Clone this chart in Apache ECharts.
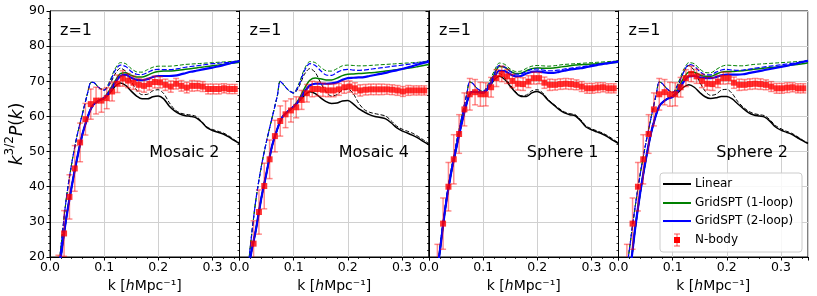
<!DOCTYPE html>
<html><head><meta charset="utf-8">
<script src="https://cdn.jsdelivr.net/npm/echarts@6/dist/echarts.min.js"></script>
<style>html,body{margin:0;padding:0;background:#fff}#c{width:817px;height:296px}</style>
</head><body><div id="c"></div>
<script>
// ---------- data ----------
const panelNames = ['Mosaic 2', 'Mosaic 4', 'Sphere 1', 'Sphere 2'];
const redshiftLabel = 'z=1';
const xTickLabels = ['0.0', '0.1', '0.2', '0.3'];
const yTickLabels = ['20', '30', '40', '50', '60', '70', '80', '90'];
const legendNames = ['Linear', 'GridSPT (1-loop)', 'GridSPT (2-loop)', 'N-body'];

const kLine = [0.016, 0.02, 0.03, 0.04, 0.05, 0.06, 0.07, 0.075, 0.08, 0.09, 0.10, 0.11, 0.12, 0.13, 0.14, 0.15, 0.16, 0.17, 0.18, 0.19, 0.20, 0.21, 0.22, 0.23, 0.24, 0.25, 0.26, 0.27, 0.28, 0.29, 0.30, 0.31, 0.32, 0.33, 0.34, 0.35];

// Mosaic 2
const m2Linear     = [15, 20, 31, 40, 48, 55, 60, 62, 63.3, 64.4, 65.1, 66.5, 68.5, 69.5, 68.8, 67.2, 65.8, 65.0, 65.0, 65.6, 65.8, 65.0, 63.0, 61.6, 60.7, 60.2, 60.0, 59.6, 58.4, 56.8, 56.0, 55.5, 55.0, 54.2, 53.2, 52.3];
const m2LinearDash = [17, 22.5, 36.5, 46.5, 54.5, 60.8, 67, 69.6, 69.7, 68.2, 67.5, 69, 72, 73.7, 72.8, 70, 67.5, 66.2, 66.3, 67.3, 67.6, 66.5, 64.0, 62.0, 61.0, 60.6, 60.4, 60.0, 58.6, 57.0, 56.3, 55.8, 55.3, 54.5, 53.4, 52.5];
const m2Loop1      = [15, 20, 31, 40, 48, 55, 60, 62, 63.3, 64.5, 65.4, 67.5, 70, 72.2, 72.4, 71.7, 71.2, 71.2, 71.7, 72.4, 72.8, 72.9, 72.9, 73.0, 73.2, 73.4, 73.6, 73.8, 74.0, 74.2, 74.4, 74.6, 74.8, 75.0, 75.2, 75.4];
const m2Loop1Dash  = [17, 22.5, 36.5, 46.5, 54.5, 60.8, 67, 69.6, 69.7, 68.2, 67.6, 70, 73.5, 75.3, 75, 73.6, 72.7, 72.6, 73.3, 74.0, 74.3, 74.3, 74.3, 74.4, 74.6, 74.8, 74.9, 75.0, 75.1, 75.2, 75.3, 75.4, 75.5, 75.6, 75.7, 75.8];
const m2Loop2      = [15, 20, 31, 40, 48, 55, 60, 62, 63.3, 64.5, 65.3, 67, 69.5, 71.5, 71.8, 71, 70.4, 70.3, 70.6, 71.2, 71.5, 71.5, 71.5, 71.6, 71.9, 72.3, 72.7, 73.0, 73.3, 73.6, 73.9, 74.2, 74.6, 75.0, 75.4, 75.7];
const m2Loop2Dash  = [17, 22.5, 36.5, 46.5, 54.5, 60.8, 67, 69.6, 69.7, 68.2, 67.5, 69.5, 73, 74.6, 74.2, 72.8, 72, 71.9, 72.5, 73.2, 73.4, 73.3, 73.3, 73.4, 73.7, 74.0, 74.2, 74.4, 74.6, 74.8, 75.0, 75.1, 75.3, 75.4, 75.6, 75.8];

// Mosaic 4
const m4Linear     = [14, 19.8, 27.5, 36.5, 44, 51.5, 56.5, 58.5, 60, 61.5, 62.7, 64.3, 66, 67, 66.5, 65.3, 64.2, 63.7, 63.8, 64.4, 64.5, 63.6, 62.2, 61.3, 60.5, 60.0, 59.7, 59.3, 58.2, 56.8, 55.9, 55.3, 54.6, 53.8, 52.8, 51.9];
const m4LinearDash = [17, 23, 36, 45.5, 53, 59.5, 66, 70, 69.3, 67.5, 66.6, 68.5, 72, 73.6, 72.5, 69.5, 67, 65.8, 66.2, 67.5, 67.8, 66.5, 63.8, 62, 61.2, 60.8, 60.5, 60.1, 58.8, 57.3, 56.4, 55.8, 55.2, 54.3, 53.3, 52.3];
const m4Loop1      = [14, 19.8, 27.5, 36.5, 44, 51.5, 56.5, 58.5, 60, 61.5, 62.9, 65, 68, 70.3, 70.9, 70.7, 70.4, 70.4, 70.9, 71.6, 72.0, 72.1, 72.2, 72.3, 72.4, 72.5, 72.7, 72.9, 73.1, 73.3, 73.5, 73.7, 73.9, 74.2, 74.5, 74.8];
const m4Loop1Dash  = [17, 23, 36, 45.5, 53, 59.5, 66, 70, 69.3, 67.5, 66.8, 69.5, 73.5, 75.6, 75.3, 74, 73, 72.9, 73.6, 74.4, 74.6, 74.5, 74.4, 74.4, 74.5, 74.6, 74.7, 74.8, 74.9, 75.0, 75.1, 75.2, 75.3, 75.4, 75.6, 75.8];
const m4Loop2      = [14, 19.8, 27.5, 36.5, 44, 51.5, 56.5, 58.5, 60, 61.5, 62.8, 64.5, 67, 68.8, 69.3, 69.3, 69.3, 69.4, 69.7, 70.4, 70.9, 71.0, 71.1, 71.2, 71.5, 71.8, 72.1, 72.4, 72.8, 73.1, 73.5, 73.9, 74.3, 74.8, 75.2, 75.6];
const m4Loop2Dash  = [17, 23, 36, 45.5, 53, 59.5, 66, 70, 69.3, 67.5, 66.7, 69, 73, 75, 74.5, 73, 71.8, 71.7, 72.5, 73.2, 73.4, 73.2, 73.1, 73.2, 73.4, 73.6, 73.8, 74.0, 74.2, 74.4, 74.6, 74.8, 75.0, 75.3, 75.5, 75.8];

// Sphere 1
const s1Linear     = [17, 21.5, 33.7, 43.2, 50.7, 57.8, 64, 66.3, 67, 66.9, 66.7, 68, 70.3, 71.4, 70.5, 68.6, 66.8, 65.7, 65.7, 66.7, 67.1, 66.3, 64.6, 63.3, 62.0, 61.0, 60.5, 60.2, 58.8, 57.0, 56.2, 55.6, 55.0, 54.2, 53.2, 52.3];
const s1LinearDash = [17.5, 22.5, 34.5, 44, 52, 59.5, 66.5, 69.8, 69.5, 67.8, 67.0, 68.7, 71, 72.2, 71, 69, 67, 65.9, 66.1, 67.3, 67.6, 66.7, 64.8, 63.5, 62.3, 61.3, 60.8, 60.5, 59.1, 57.3, 56.5, 55.9, 55.3, 54.5, 53.5, 52.5];
const s1Loop1      = [17, 21.5, 33.7, 43.2, 50.7, 57.8, 64, 66.3, 67, 66.9, 66.9, 68.5, 71.8, 74.2, 74, 72.9, 72.2, 72.3, 73, 73.6, 73.8, 73.7, 73.7, 73.8, 74.0, 74.2, 74.4, 74.6, 74.7, 74.8, 74.9, 75.0, 75.1, 75.2, 75.3, 75.4];
const s1Loop1Dash  = [17.5, 22.5, 34.5, 44, 52, 59.5, 66.5, 69.8, 69.5, 67.8, 67.2, 69.5, 72.8, 75.2, 74.8, 73.5, 72.8, 72.9, 73.7, 74.3, 74.5, 74.4, 74.3, 74.4, 74.6, 74.8, 74.9, 75.0, 75.1, 75.2, 75.3, 75.4, 75.5, 75.6, 75.7, 75.8];
const s1Loop2      = [17, 21.5, 33.7, 43.2, 50.7, 57.8, 64, 66.3, 67, 66.9, 66.8, 68.2, 71, 73, 72.9, 72, 71.4, 71.5, 72.2, 72.7, 72.8, 72.6, 72.4, 72.4, 72.7, 73.0, 73.3, 73.5, 73.7, 74.0, 74.3, 74.6, 74.9, 75.1, 75.4, 75.6];
const s1Loop2Dash  = [17.5, 22.5, 34.5, 44, 52, 59.5, 66.5, 69.8, 69.5, 67.8, 67.1, 69, 72, 74.5, 74, 72.8, 72, 72.1, 72.8, 73.4, 73.5, 73.2, 73.0, 73.0, 73.2, 73.5, 73.7, 73.9, 74.1, 74.3, 74.6, 74.8, 75.0, 75.2, 75.5, 75.7];

// Sphere 2
const s2Linear     = [10, 14, 27.2, 38.2, 47.3, 55.2, 60.8, 62.8, 63.8, 65, 65.6, 66.8, 68.3, 69, 68.3, 66.8, 65.6, 65.1, 65.3, 65.7, 65.7, 65.0, 63.6, 62.3, 61.1, 60.4, 60.1, 59.8, 58.6, 57.0, 56.1, 55.5, 54.9, 54.0, 53.1, 52.3];
const s2LinearDash = [17.5, 22, 33.5, 43.5, 52, 59.5, 66.5, 69.8, 69.5, 67.8, 66.8, 68.8, 72.5, 74.5, 73, 69.8, 67.2, 66, 66.3, 67.5, 67.7, 66.5, 64.3, 62.7, 61.5, 60.8, 60.5, 60.2, 59.0, 57.4, 56.5, 55.8, 55.2, 54.3, 53.3, 52.5];
const s2Loop1      = [10, 14, 27.2, 38.2, 47.3, 55.2, 60.8, 62.8, 63.8, 65, 65.7, 68, 70.8, 72.6, 72.6, 71.8, 71.4, 71.4, 72, 72.6, 72.8, 72.8, 72.9, 73.0, 73.2, 73.4, 73.6, 73.8, 73.9, 74.0, 74.2, 74.4, 74.6, 74.8, 75.0, 75.3];
const s2Loop1Dash  = [17.5, 22, 33.5, 43.5, 52, 59.5, 66.5, 69.8, 69.5, 67.8, 66.9, 69.5, 73.2, 75.3, 75, 73.5, 72.5, 72.4, 73.3, 74.2, 74.6, 74.5, 74.4, 74.4, 74.6, 74.8, 74.9, 75.0, 75.1, 75.2, 75.3, 75.4, 75.5, 75.6, 75.7, 75.8];
const s2Loop2      = [10, 14, 27.2, 38.2, 47.3, 55.2, 60.8, 62.8, 63.8, 65, 65.6, 67.3, 69.8, 71.4, 71.5, 71.1, 70.9, 70.9, 71.2, 71.7, 71.9, 71.9, 71.9, 72.0, 72.3, 72.6, 72.9, 73.2, 73.5, 73.8, 74.1, 74.4, 74.7, 75.1, 75.5, 75.8];
const s2Loop2Dash  = [17.5, 22, 33.5, 43.5, 52, 59.5, 66.5, 69.8, 69.5, 67.8, 66.8, 69, 72.5, 74.8, 74.3, 72.8, 71.8, 71.8, 72.6, 73.2, 73.4, 73.2, 73.1, 73.2, 73.4, 73.7, 73.9, 74.1, 74.3, 74.5, 74.7, 74.9, 75.1, 75.3, 75.5, 75.8];

// N-body
const kNbody = [0.0155, 0.0260, 0.0359, 0.0457, 0.0556, 0.0654, 0.0753, 0.0851, 0.0950, 0.1048, 0.1147, 0.1245, 0.1344, 0.1442, 0.1541, 0.1639, 0.1738, 0.1836, 0.1935, 0.2033, 0.2132, 0.2230, 0.2329, 0.2427, 0.2526, 0.2624, 0.2723, 0.2821, 0.2920, 0.3018, 0.3117, 0.3215, 0.3314, 0.3412];
const m2Nbody = [16.5, 26.7, 37.1, 45.2, 52.6, 59.2, 63.5, 64.5, 64.5, 65.2, 67.1, 69.3, 70.8, 70.2, 69.6, 69.0, 68.7, 69.2, 69.8, 69.7, 69.0, 68.5, 69.3, 68.7, 68.2, 68.7, 68.7, 68.5, 67.8, 67.8, 67.8, 68.0, 67.8, 67.8];
const m4Nbody = [14, 23.8, 32.8, 40.2, 47.8, 54.4, 58.7, 60.6, 61.7, 62.6, 64.7, 66.6, 67.8, 67.8, 67.6, 67.4, 67.4, 67.7, 68.3, 68.5, 68.0, 67.4, 67.6, 67.7, 67.7, 67.7, 67.7, 67.6, 67.4, 67.1, 67.4, 67.4, 67.4, 67.4];
const sphereNbody = [19.6, 29.5, 40.0, 47.8, 55.0, 62.0, 66.3, 66.9, 66.3, 66.3, 68.3, 70.9, 72.1, 71.4, 70.1, 69.3, 69.2, 69.9, 70.9, 70.9, 69.6, 69.0, 69.0, 69.2, 69.3, 69.2, 69.0, 68.5, 68.0, 68.0, 68.2, 68.3, 68.0, 68.0];
const mosaicErr = [4.0, 6.5, 6.3, 6.5, 5.5, 4.5, 4.3, 3.8, 3.3, 3.0, 2.7, 2.5, 2.2, 2.0, 1.9, 1.8, 1.8, 1.7, 1.7, 1.6, 1.6, 1.6, 1.5, 1.5, 1.5, 1.5, 1.4, 1.4, 1.4, 1.4, 1.4, 1.3, 1.3, 1.3];
const sphereErr = [4.0, 7.3, 6.9, 7.0, 5.5, 4.7, 4.5, 3.6, 3.4, 3.3, 2.8, 2.4, 2.2, 2.0, 1.9, 1.8, 1.8, 1.7, 1.7, 1.6, 1.6, 1.6, 1.5, 1.5, 1.5, 1.5, 1.4, 1.4, 1.4, 1.4, 1.4, 1.3, 1.3, 1.3];

// ---------- chart ----------
const panels = [
  {lin: m2Linear, linD: m2LinearDash, l1: m2Loop1, l1D: m2Loop1Dash, l2: m2Loop2, l2D: m2Loop2Dash, nb: m2Nbody, err: mosaicErr},
  {lin: m4Linear, linD: m4LinearDash, l1: m4Loop1, l1D: m4Loop1Dash, l2: m4Loop2, l2D: m4Loop2Dash, nb: m4Nbody, err: mosaicErr},
  {lin: s1Linear, linD: s1LinearDash, l1: s1Loop1, l1D: s1Loop1Dash, l2: s1Loop2, l2D: s1Loop2Dash, nb: sphereNbody, err: sphereErr},
  {lin: s2Linear, linD: s2LinearDash, l1: s2Loop1, l1D: s2Loop1Dash, l2: s2Loop2, l2D: s2Loop2Dash, nb: sphereNbody, err: sphereErr}
];

const FONT = 'DejaVu Sans';
const GL = [50, 239.5, 429, 618.5];
const GW = 189.5, GT = 11, GH = 246;
const BLACK = '#000000', GREEN = '#008000', BLUE = '#0000ff', RED = '#ff0000';
const ERRC = 'rgba(255,0,0,0.45)';

const chart = echarts.init(document.getElementById('c'), null, {renderer: 'canvas'});

const grids = [], xAxes = [], yAxes = [], series = [], graphics = [];

function lineSeries(i, name, vals, color, width, type, z) {
  return {
    type: 'line', name: name, xAxisIndex: i, yAxisIndex: i,
    data: kLine.map((k, j) => [k, vals[j]]),
    showSymbol: false, symbol: 'none', smooth: 0.3, clip: true, silent: true, z: z,
    lineStyle: {color: color, width: width, type: type}
  };
}

panels.forEach((p, i) => {
  grids.push({left: GL[i], top: GT, width: GW, height: GH, show: true, borderColor: '#000', borderWidth: 1,
    backgroundColor: 'transparent', containLabel: false, outerBoundsMode: 'none'});
  xAxes.push({
    gridIndex: i, type: 'value', min: 0, max: 0.35, interval: 0.1,
    axisLine: {show: true, onZero: false, lineStyle: {color: '#000', width: 1}},
    axisTick: {show: true, length: 3.5, lineStyle: {color: '#000', width: 1}},
    minorTick: {show: true, splitNumber: 5, length: 2, lineStyle: {color: '#000', width: 0.8}},
    splitLine: {show: true, lineStyle: {color: '#d0d0d0', width: 1}},
    axisLabel: {show: true, showMaxLabel: false, margin: 4, fontSize: 12.5, fontFamily: FONT, color: '#000',
      formatter: v => { const idx = Math.round(v * 10); return (Math.abs(v * 10 - idx) < 1e-6 && xTickLabels[idx]) ? xTickLabels[idx] : ''; }},
    name: 'k [{i|h}Mpc⁻¹]', nameLocation: 'middle', nameGap: 19,
    nameTextStyle: {fontSize: 14, fontFamily: FONT, color: '#000',
      rich: {i: {fontSize: 14, fontFamily: FONT, fontStyle: 'italic', color: '#000'}}}
  });
  yAxes.push({
    gridIndex: i, type: 'value', min: 20, max: 90, interval: 10,
    axisLine: {show: true, onZero: false, lineStyle: {color: '#000', width: 1}},
    axisTick: {show: true, length: 3.5, lineStyle: {color: '#000', width: 1}},
    minorTick: {show: true, splitNumber: 5, length: 2, lineStyle: {color: '#000', width: 0.8}},
    splitLine: {show: true, lineStyle: {color: '#d0d0d0', width: 1}},
    axisLabel: {show: i === 0, margin: 5, fontSize: 12.5, fontFamily: FONT, color: '#000',
      formatter: v => { const idx = Math.round((v - 20) / 10); return yTickLabels[idx] || ''; }}
  });

  series.push(lineSeries(i, legendNames[0], p.lin, BLACK, 1.5, 'solid', 2));
  series.push(lineSeries(i, legendNames[0] + ' dashed', p.linD, BLACK, 1, [4, 2], 3));
  series.push(lineSeries(i, legendNames[1], p.l1, GREEN, 1.5, 'solid', 4));
  series.push(lineSeries(i, legendNames[1] + ' dashed', p.l1D, GREEN, 1, [4, 2], 5));
  series.push(lineSeries(i, legendNames[2], p.l2, BLUE, 2.2, 'solid', 6));
  series.push(lineSeries(i, legendNames[2] + ' dashed', p.l2D, BLUE, 1.2, [5, 2], 7));

  series.push({
    type: 'custom', name: legendNames[3] + ' err', xAxisIndex: i, yAxisIndex: i, clip: true, silent: true, z: 8,
    data: kNbody.map((k, j) => [k, p.nb[j], p.err[j]]),
    encode: {x: 0, y: 1},
    renderItem: (params, api) => {
      const x = api.value(0), y = api.value(1), e = api.value(2);
      const t = api.coord([x, y + e]), b = api.coord([x, y - e]);
      const st = {stroke: ERRC, lineWidth: 1.5};
      return {type: 'group', children: [
        {type: 'line', shape: {x1: t[0], y1: t[1], x2: b[0], y2: b[1]}, style: st},
        {type: 'line', shape: {x1: t[0] - 3, y1: t[1], x2: t[0] + 3, y2: t[1]}, style: st},
        {type: 'line', shape: {x1: b[0] - 3, y1: b[1], x2: b[0] + 3, y2: b[1]}, style: st}
      ]};
    }
  });
  series.push({
    type: 'scatter', name: legendNames[3], xAxisIndex: i, yAxisIndex: i, clip: true, silent: true, z: 9,
    symbol: 'rect', symbolSize: 6, itemStyle: {color: RED},
    data: kNbody.map((k, j) => [k, p.nb[j]])
  });

  graphics.push({type: 'text', x: GL[i] + 10, y: 31, z: 50,
    style: {text: redshiftLabel, font: '16px "DejaVu Sans"', fill: '#000', align: 'left', verticalAlign: 'middle'}});
  graphics.push({type: 'text', x: GL[i] + GW - 20, y: 153, z: 50,
    style: {text: panelNames[i], font: '16px "DejaVu Sans"', fill: '#000', align: 'right', verticalAlign: 'middle'}});
});

// y-axis title
graphics.push({type: 'text', x: 15, y: 134, rotation: Math.PI / 2, z: 50,
  style: {text: '{i|k}{s|3/2}{i|P}{n|(}{i|k}{n|)}', align: 'center', verticalAlign: 'middle',
    rich: {
      i: {fontFamily: FONT, fontSize: 17, fontStyle: 'italic', fill: '#000', lineHeight: 22, verticalAlign: 'bottom'},
      n: {fontFamily: FONT, fontSize: 17, fill: '#000', lineHeight: 22, verticalAlign: 'bottom'},
      s: {fontFamily: FONT, fontSize: 12, fill: '#000', lineHeight: 12, verticalAlign: 'top'}
    }}});

// legend box
const LX = 660, LY = 173;
const legendItems = [
  {name: legendNames[0], color: BLACK, y: 184},
  {name: legendNames[1], color: GREEN, y: 203},
  {name: legendNames[2], color: BLUE, y: 221}
];
graphics.push({type: 'rect', z: 60, shape: {x: LX, y: LY, width: 142, height: 79, r: 3},
  style: {fill: 'rgba(255,255,255,0.85)', stroke: '#cccccc', lineWidth: 1}});
legendItems.forEach(it => {
  graphics.push({type: 'line', z: 61, shape: {x1: LX + 3, y1: it.y, x2: LX + 31, y2: it.y},
    style: {stroke: it.color, lineWidth: 2}});
  graphics.push({type: 'text', z: 61, x: LX + 35, y: it.y,
    style: {text: it.name, font: '12px "DejaVu Sans"', fill: '#000', align: 'left', verticalAlign: 'middle'}});
});
const ny = 240, nx = LX + 17;
graphics.push({type: 'line', z: 61, shape: {x1: nx, y1: ny - 6, x2: nx, y2: ny + 6}, style: {stroke: ERRC, lineWidth: 1.5}});
graphics.push({type: 'line', z: 61, shape: {x1: nx - 3, y1: ny - 6, x2: nx + 3, y2: ny - 6}, style: {stroke: ERRC, lineWidth: 1.5}});
graphics.push({type: 'line', z: 61, shape: {x1: nx - 3, y1: ny + 6, x2: nx + 3, y2: ny + 6}, style: {stroke: ERRC, lineWidth: 1.5}});
graphics.push({type: 'rect', z: 62, shape: {x: nx - 3, y: ny - 3, width: 6, height: 6}, style: {fill: RED}});
graphics.push({type: 'text', z: 61, x: LX + 35, y: ny,
  style: {text: legendNames[3], font: '12px "DejaVu Sans"', fill: '#000', align: 'left', verticalAlign: 'middle'}});

chart.setOption({
  animation: false,
  backgroundColor: '#fff',
  textStyle: {fontFamily: FONT},
  grid: grids, xAxis: xAxes, yAxis: yAxes, series: series, graphic: graphics
});
</script>
</body></html>
